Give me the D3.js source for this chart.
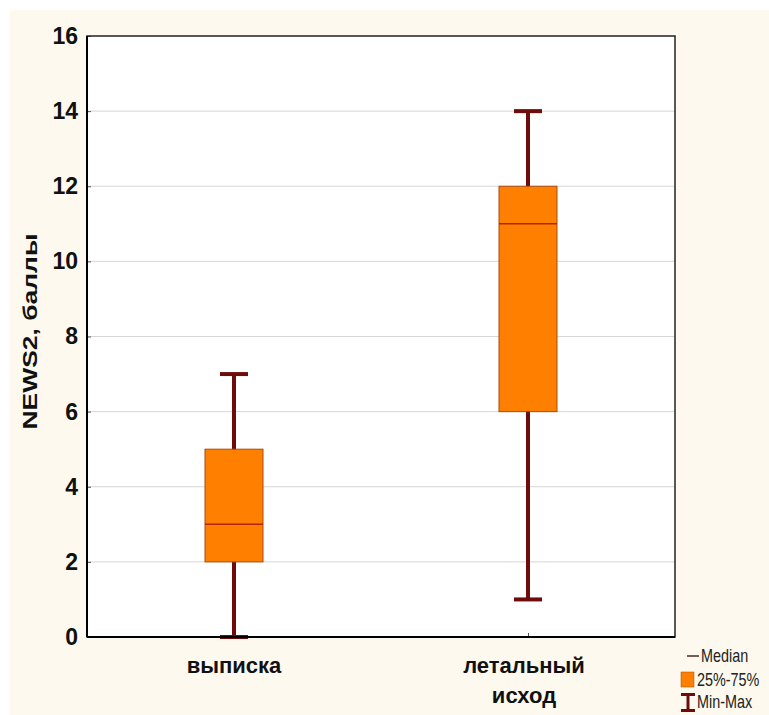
<!DOCTYPE html>
<html>
<head>
<meta charset="utf-8">
<script src="https://cdn.jsdelivr.net/npm/d3@7"></script>
<style>
  body { margin: 0; background: #fff; }
  svg { display: block; }
  text { font-family: Arial, "Liberation Sans", sans-serif; }
</style>
</head>
<body>
<svg id="chart" width="769" height="715"></svg>
<script>
// data
var groups = ["выписка", "летальный исход"];
var groupLines = [["выписка"], ["летальный", "исход"]];
var minVals = [0, 1];
var q1Vals = [2, 6];
var medVals = [3, 11];
var q3Vals = [5, 12];
var maxVals = [7, 14];
var yTicks = [0, 2, 4, 6, 8, 10, 12, 14, 16];
var legendLabels = ["Median", "25%-75%", "Min-Max"];

var svg = d3.select("#chart"),
    WIDTH = 769,
    HEIGHT = 715,
    MARGINS = { top: 36, right: 94, bottom: 78, left: 87 };

var x0 = MARGINS.left, x1 = WIDTH - MARGINS.right,
    y0 = MARGINS.top, y1 = HEIGHT - MARGINS.bottom;

var xScale = d3.scalePoint().domain(groups).range([x0, x1]).padding(0.5);
var yScale = d3.scaleLinear().domain([0, 16]).range([y1, y0]);

var boxW = 58, capW = 28;
var whiskerCol = "#6e0c0c", boxFill = "#ff8000", boxStroke = "#a84a10", medCol = "#b8200c";

// cream page
svg.append("rect").attr("x", 10).attr("y", 10).attr("width", WIDTH - 10).attr("height", HEIGHT - 10)
  .attr("fill", "#fdf9ee");

// plot area
svg.append("rect").attr("x", x0).attr("y", y0).attr("width", x1 - x0).attr("height", y1 - y0)
  .attr("fill", "#fff");

// grid
svg.append("g").selectAll("line").data(yTicks.slice(1, -1)).enter().append("line")
  .attr("x1", x0).attr("x2", x1)
  .attr("y1", function(d) { return yScale(d); })
  .attr("y2", function(d) { return yScale(d); })
  .attr("stroke", "#d6d6d6").attr("stroke-width", 1);

// y axis
var yAxis = d3.axisLeft(yScale).tickValues(yTicks).tickSize(-4).tickPadding(9);
var gy = svg.append("g").attr("transform", "translate(" + x0 + ",0)").call(yAxis);
gy.select(".domain").remove();
gy.selectAll(".tick line").attr("stroke", "#555");
gy.selectAll("text").attr("font-size", 23).attr("font-weight", "bold").attr("fill", "#111")
  .attr("font-family", "Arial, 'Liberation Sans', sans-serif");

// x axis
var xAxis = d3.axisBottom(xScale).tickSize(-4).tickFormat("");
var gx = svg.append("g").attr("transform", "translate(0," + y1 + ")").call(xAxis);
gx.select(".domain").remove();
gx.selectAll(".tick line").attr("stroke", "#555");

// category labels
groups.forEach(function(g, i) {
  var cx = xScale(g) - (i === 1 ? 4 : 0);
  var t = svg.append("text")
    .attr("x", cx)
    .attr("y", 673)
    .attr("text-anchor", "middle")
    .attr("font-size", 22).attr("font-weight", "bold").attr("fill", "#111");
  groupLines[i].forEach(function(s, j) {
    t.append("tspan").attr("x", cx).attr("dy", j === 0 ? 0 : 30).text(s);
  });
});

// y title
svg.append("text")
  .attr("transform", "translate(37," + ((y0 + y1) / 2 - 5) + ") rotate(-90)")
  .attr("text-anchor", "middle")
  .attr("font-size", 21).attr("font-weight", "bold").attr("fill", "#111")
  .attr("textLength", 196).attr("lengthAdjust", "spacingAndGlyphs")
  .text("NEWS2, баллы");

// boxes
var idx = d3.range(groups.length);
var boxes = svg.append("g").selectAll("g").data(idx).enter().append("g");

boxes.append("line")
  .attr("x1", function(i) { return xScale(groups[i]); })
  .attr("x2", function(i) { return xScale(groups[i]); })
  .attr("y1", function(i) { return yScale(minVals[i]); })
  .attr("y2", function(i) { return yScale(maxVals[i]); })
  .attr("stroke", whiskerCol).attr("stroke-width", 4);

[minVals, maxVals].forEach(function(arr) {
  boxes.append("line")
    .attr("x1", function(i) { return xScale(groups[i]) - capW / 2; })
    .attr("x2", function(i) { return xScale(groups[i]) + capW / 2; })
    .attr("y1", function(i) { return yScale(arr[i]); })
    .attr("y2", function(i) { return yScale(arr[i]); })
    .attr("stroke", whiskerCol).attr("stroke-width", 4);
});

boxes.append("rect")
  .attr("x", function(i) { return xScale(groups[i]) - boxW / 2; })
  .attr("y", function(i) { return yScale(q3Vals[i]); })
  .attr("width", boxW)
  .attr("height", function(i) { return yScale(q1Vals[i]) - yScale(q3Vals[i]); })
  .attr("fill", boxFill).attr("stroke", boxStroke).attr("stroke-width", 1);

boxes.append("line")
  .attr("x1", function(i) { return xScale(groups[i]) - boxW / 2; })
  .attr("x2", function(i) { return xScale(groups[i]) + boxW / 2; })
  .attr("y1", function(i) { return yScale(medVals[i]); })
  .attr("y2", function(i) { return yScale(medVals[i]); })
  .attr("stroke", medCol).attr("stroke-width", 1.5);

// frame
svg.append("rect").attr("x", x0).attr("y", y0).attr("width", x1 - x0).attr("height", y1 - y0)
  .attr("fill", "none").attr("stroke", "#222").attr("stroke-width", 1.5);
svg.append("line").attr("x1", x0).attr("x2", x0).attr("y1", y0).attr("y2", y1)
  .attr("stroke", "#000").attr("stroke-width", 2);
svg.append("line").attr("x1", x0).attr("x2", x1).attr("y1", y1).attr("y2", y1)
  .attr("stroke", "#000").attr("stroke-width", 2);

// legend
var lx = 681;
var leg = svg.append("g");
leg.append("line").attr("x1", lx + 6).attr("x2", lx + 18).attr("y1", 656).attr("y2", 656)
  .attr("stroke", "#4a2a22").attr("stroke-width", 1.5);
leg.append("rect").attr("x", lx).attr("y", 672).attr("width", 13).attr("height", 15)
  .attr("fill", boxFill).attr("stroke", boxStroke).attr("stroke-width", 0.5);
leg.append("path").attr("d", "M" + lx + ",694.5h14M" + (lx + 7) + ",694.5V710.5M" + lx + ",710.5h14")
  .attr("stroke", whiskerCol).attr("stroke-width", 3).attr("fill", "none");
var legX = [701, 697, 697], legY = [662, 686, 708];
legendLabels.forEach(function(s, i) {
  leg.append("text")
    .attr("transform", "translate(" + legX[i] + "," + legY[i] + ") scale(0.8,1)")
    .attr("font-size", 18).attr("fill", "#222")
    .text(s);
});
</script>
</body>
</html>
